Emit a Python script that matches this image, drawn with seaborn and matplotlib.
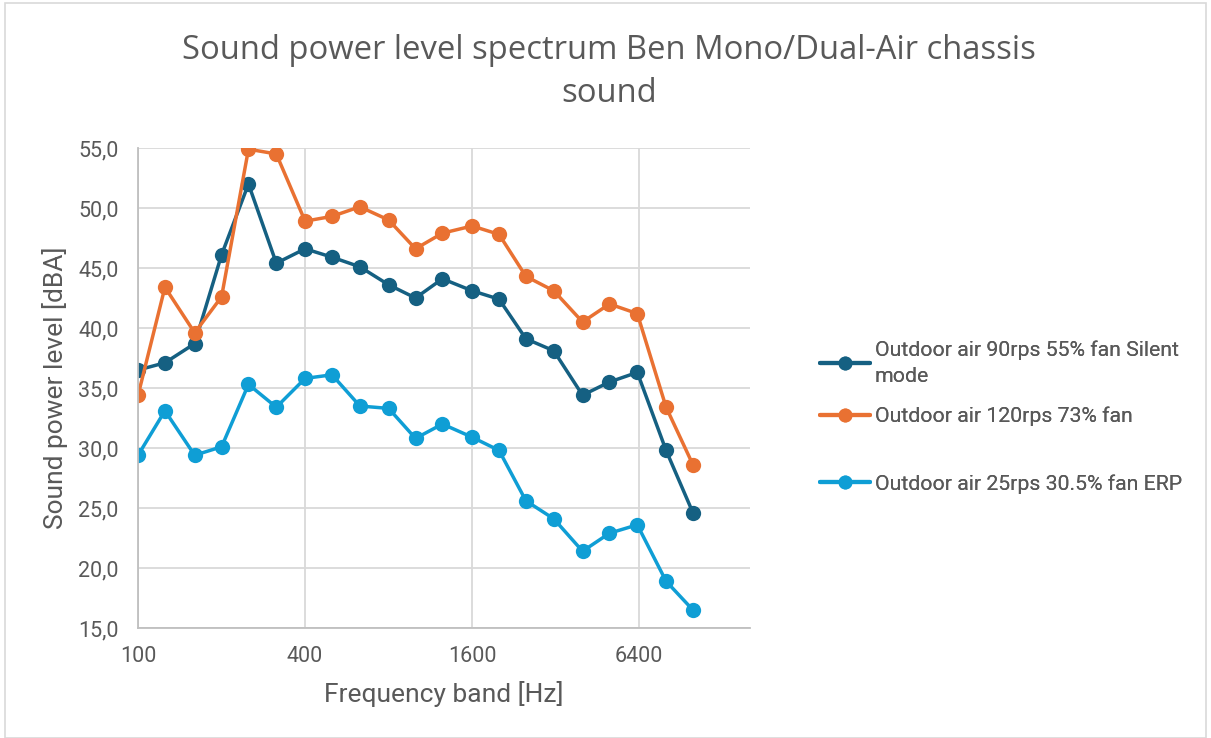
import pandas as pd
import numpy as np
import seaborn as sns
import matplotlib.pyplot as plt
from matplotlib.ticker import FixedLocator, FuncFormatter, NullLocator
from matplotlib.patches import Rectangle

# Third-octave frequency bands [Hz]
freqs = [100, 125, 160, 200, 250, 315, 400, 500, 630, 800, 1000,
         1250, 1600, 2000, 2500, 3150, 4000, 5000, 6300, 8000, 10000]

silent_90rps = [36.5, 37.1, 38.7, 46.1, 52.0, 45.4, 46.6, 45.9, 45.1, 43.6, 42.5,
                44.1, 43.1, 42.4, 39.1, 38.1, 34.4, 35.5, 36.3, 29.8, 24.6]
full_120rps = [34.4, 43.4, 39.6, 42.6, 54.9, 54.5, 48.9, 49.3, 50.1, 49.0, 46.6,
               47.9, 48.5, 47.8, 44.3, 43.1, 40.5, 42.0, 41.2, 33.4, 28.6]
erp_25rps = [29.4, 33.1, 29.4, 30.1, 35.3, 33.4, 35.8, 36.1, 33.5, 33.3, 30.8,
             32.0, 30.9, 29.8, 25.6, 24.1, 21.4, 22.9, 23.6, 18.9, 16.5]

series_names = ["Outdoor air 90rps 55% fan Silent\nmode",
                "Outdoor air 120rps 73% fan",
                "Outdoor air 25rps 30.5% fan ERP"]
series_colors = ['#156082', '#E97132', '#0F9ED5']

x_ticks = [100, 400, 1600, 6400]
y_ticks = [15, 20, 25, 30, 35, 40, 45, 50, 55]

# long format for seaborn
df = pd.DataFrame({
    'freq': freqs * 3,
    'level': silent_90rps + full_120rps + erp_25rps,
    'series': [series_names[0]] * len(freqs) + [series_names[1]] * len(freqs) + [series_names[2]] * len(freqs),
})

sns.set_style("white")
plt.rcParams['font.family'] = ['Roboto', 'DejaVu Sans']
text_grey = '#595959'

fig = plt.figure(figsize=(12.11, 7.38), dpi=100)
ax = fig.add_axes([0.114, 0.149, 0.505, 0.6505])

sns.lineplot(data=df, x='freq', y='level', hue='series', hue_order=series_names,
             palette=series_colors, marker='o', markersize=11, markeredgewidth=0,
             linewidth=2.5, ax=ax, legend=True)

ax.set_xscale('log', base=4)
ax.set_xlim(100, 16000)
ax.set_ylim(15, 55)
ax.xaxis.set_major_locator(FixedLocator(x_ticks))
ax.xaxis.set_minor_locator(NullLocator())
ax.xaxis.set_major_formatter(FuncFormatter(lambda v, p: f"{v:.0f}"))
ax.set_yticks(y_ticks)
ax.yaxis.set_major_formatter(FuncFormatter(lambda v, p: f"{v:.1f}".replace('.', ',')))

ax.grid(True, color='#D9D9D9', linewidth=1.3)
ax.set_axisbelow(True)
for side in ['top', 'right']:
    ax.spines[side].set_visible(False)
for side in ['left', 'bottom']:
    ax.spines[side].set_color('#BFBFBF')
    ax.spines[side].set_linewidth(1.3)
ax.tick_params(axis='both', length=0, labelsize=15.5, labelcolor=text_grey)
ax.tick_params(axis='y', pad=14)
ax.tick_params(axis='x', pad=13)

ax.set_xlabel("Frequency band [Hz]", fontsize=19, color=text_grey, labelpad=10)
ax.set_ylabel("Sound power level [dBA]", fontsize=19, color=text_grey, labelpad=7)

fig.text(0.503, 0.903, "Sound power level spectrum Ben Mono/Dual-Air chassis\nsound",
         ha='center', va='center', fontsize=23.6, color=text_grey,
         family=['Open Sans', 'DejaVu Sans'], linespacing=1.4)

# legend: one box per entry, placed like the original
handles, labels = ax.get_legend_handles_labels()
ax.get_legend().remove()
for h in handles:
    h.set_linewidth(3)
    h.set_markersize(10)
legend_y = [0.508, 0.436, 0.344]
for h, lab, ly in zip(handles, labels, legend_y):
    leg = fig.legend([h], [lab], loc='center left', bbox_to_anchor=(0.6775, ly),
                     frameon=False, fontsize=15.3, handlelength=2.35, handletextpad=0.2,
                     labelcolor=text_grey, borderaxespad=0, borderpad=0)
    for t in leg.get_texts():
        t.set_linespacing(1.45)
    fig.add_artist(leg)

# chart border
fig.add_artist(Rectangle((0.004, 0.0), 0.992, 0.996, transform=fig.transFigure,
                         fill=False, edgecolor='#D9D9D9', linewidth=1.2))

fig.savefig('out.png', dpi=100)
